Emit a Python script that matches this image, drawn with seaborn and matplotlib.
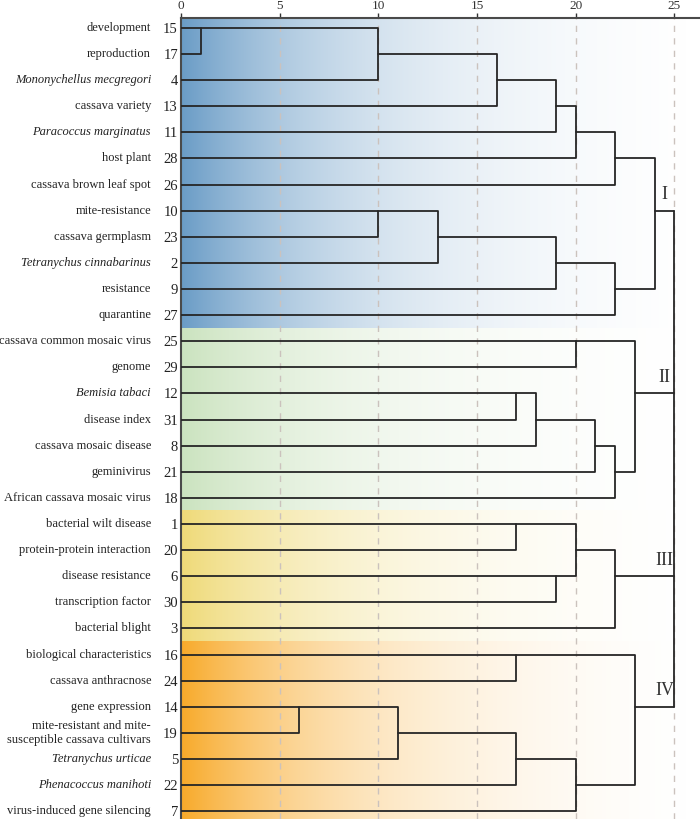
import numpy as np
import pandas as pd
import matplotlib
matplotlib.use('Agg')
import matplotlib.pyplot as plt
import seaborn as sns
from matplotlib.colors import to_rgb

# keyword terms in dendrogram order (top to bottom) and their numbers
terms = ['development', 'reproduction', 'Mononychellus mecgregori', 'cassava variety',
         'Paracoccus marginatus', 'host plant', 'cassava brown leaf spot', 'mite-resistance',
         'cassava germplasm', 'Tetranychus cinnabarinus', 'resistance', 'quarantine',
         'cassava common mosaic virus', 'genome', 'Bemisia tabaci', 'disease index',
         'cassava mosaic disease', 'geminivirus', 'African cassava mosaic virus',
         'bacterial wilt disease', 'protein-protein interaction', 'disease resistance',
         'transcription factor', 'bacterial blight', 'biological characteristics',
         'cassava anthracnose', 'gene expression',
         'mite-resistant and mite-\nsusceptible cassava cultivars', 'Tetranychus urticae',
         'Phenacoccus manihoti', 'virus-induced gene silencing']
term_ids = [15, 17, 4, 13, 11, 28, 26, 10, 23, 2, 9, 27, 25, 29, 12, 31, 8, 21, 18,
            1, 20, 6, 30, 3, 16, 24, 14, 19, 5, 22, 7]
species = ['Mononychellus mecgregori', 'Paracoccus marginatus', 'Tetranychus cinnabarinus',
           'Bemisia tabaci', 'Tetranychus urticae', 'Phenacoccus manihoti']

# merges: (child a, child b, rescaled distance); 'cN' = result of merge N
merges = [
    (15, 17, 1), ('c0', 4, 10), ('c1', 13, 16), ('c2', 11, 19), ('c3', 28, 20),
    ('c4', 26, 22),
    (10, 23, 10), ('c6', 2, 13), ('c7', 9, 19), ('c8', 27, 22),
    ('c5', 'c9', 24),
    (25, 29, 20), (12, 31, 17), ('c12', 8, 18), ('c13', 21, 21), ('c14', 18, 22),
    ('c11', 'c15', 23),
    (1, 20, 17), (6, 30, 19), ('c17', 'c18', 20), ('c19', 3, 22),
    (16, 24, 17), (14, 19, 6), ('c22', 5, 11), ('c23', 22, 17), ('c24', 7, 20),
    ('c21', 'c25', 23),
]
cluster_nodes = ['c10', 'c16', 'c20', 'c26']
cluster_names = ['I', 'II', 'III', 'IV']
cluster_sizes = [12, 7, 5, 7]
final_distance = 25
band_colors = ['#6a9cc6', '#cbe3bf', '#efda78', '#f8aa2a']

sns.set_style('white')
plt.rcParams['font.family'] = ['Liberation Serif', 'DejaVu Serif']

# build link polylines
node_y = {tid: i for i, tid in enumerate(term_ids)}
node_x = {tid: 0 for tid in term_ids}
rows = []
for i, (a, b, h) in enumerate(merges):
    ya, yb = node_y[a], node_y[b]
    pts = [(node_x[a], ya), (h, ya), (h, yb), (node_x[b], yb)]
    for x, y in pts:
        rows.append({'x': x, 'y': y, 'link': f'm{i}'})
    node_y[f'c{i}'] = np.floor((ya + yb) / 2)
    node_x[f'c{i}'] = h
for c in cluster_nodes:
    rows.append({'x': node_x[c], 'y': node_y[c], 'link': 'top_' + c})
    rows.append({'x': final_distance, 'y': node_y[c], 'link': 'top_' + c})
ys = [node_y[c] for c in cluster_nodes]
rows.append({'x': final_distance, 'y': min(ys), 'link': 'top'})
rows.append({'x': final_distance, 'y': max(ys), 'link': 'top'})
seg = pd.DataFrame(rows)

fig = plt.figure(figsize=(7, 8.19), dpi=100)
ax = fig.add_axes([0.2586, 0.0, 0.7414, 0.978])

xmax = 26.3
ytop, ybot = -0.38, 30.3

# gradient bands behind each cluster, fading to white on the right
band_end = 25.6
xs = np.linspace(0, band_end, 400)
fade = (1 - np.exp(-xs / 9.0)) / (1 - np.exp(-band_end / 9.0))
start = 0
for k, (size, col) in enumerate(zip(cluster_sizes, band_colors)):
    c = np.array(to_rgb(col))
    img = c[None, :] * (1 - fade[:, None]) + fade[:, None] * np.ones(3)
    y0 = ytop if k == 0 else start - 0.5
    y1 = ybot if k == len(cluster_sizes) - 1 else start + size - 0.5
    ax.imshow(img[None, :, :], extent=[0, band_end, y1, y0], aspect='auto',
              interpolation='bilinear', zorder=0)
    start += size

for v in [5, 10, 15, 20, 25]:
    ax.axvline(v, color='#cbc2bd', lw=1.0, ls=(0, (4.5, 4.5)), zorder=1)

sns.lineplot(data=seg, x='x', y='y', units='link', estimator=None, sort=False,
             color='#262626', lw=1.3, ax=ax, legend=False, zorder=3)

ax.set_xlim(0, xmax)
ax.set_ylim(ybot, ytop)
ax.set_xlabel('')
ax.set_ylabel('')
ax.xaxis.tick_top()
ax.set_xticks([0, 5, 10, 15, 20, 25])
ax.tick_params(axis='x', direction='out', length=3.4, width=1, pad=1.0,
               labelsize=9.5, colors='#333333')
ax.set_yticks(range(len(term_ids)))
ax.set_yticklabels([str(t) for t in term_ids], fontsize=10.5, color='#222222')
ax.tick_params(axis='y', length=0, pad=2.2)

for s in ['bottom', 'right']:
    ax.spines[s].set_visible(False)
for s in ['left', 'top']:
    ax.spines[s].set_linewidth(1.5)
    ax.spines[s].set_color('#4a4a4a')

for i, name in enumerate(terms):
    ax.annotate(name, xy=(0, i), xycoords=('axes fraction', 'data'),
                xytext=(-21.6, 0), textcoords='offset points', ha='right', va='center',
                fontsize=9, color='#222222',
                style='italic' if name in species else 'normal')

for c, label in zip(cluster_nodes, cluster_names):
    ax.text(24.5, node_y[c] - 0.28, label, ha='center', va='bottom',
            fontsize=13, color='#333333', zorder=4)

fig.savefig('out.png', dpi=100)
